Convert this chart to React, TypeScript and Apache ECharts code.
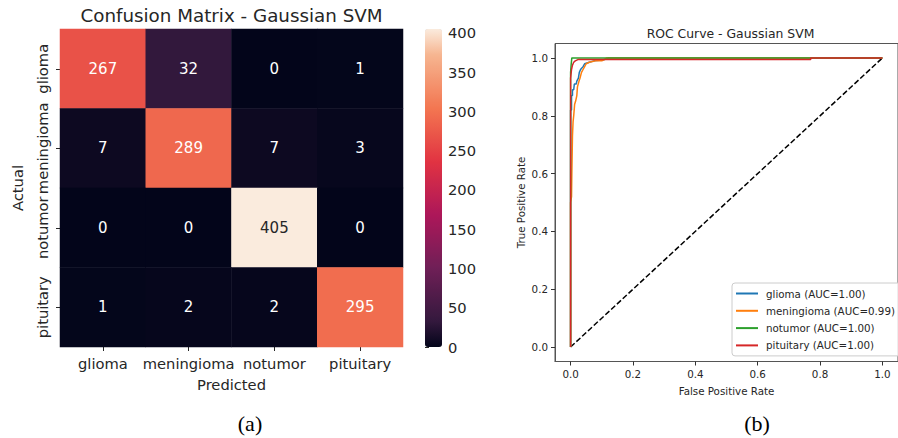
import React, { useEffect, useRef } from 'react';
import * as echarts from 'echarts';

const classes = ['glioma', 'meningioma', 'notumor', 'pituitary'];
const confusion = [
  [267, 32, 0, 1],
  [7, 289, 7, 3],
  [0, 0, 405, 0],
  [1, 2, 2, 295],
];
const colorMin = 0;
const colorMax = 405;
const colorbarInterval = 50;

const rocTicks = [0, 0.2, 0.4, 0.6, 0.8, 1.0];
const rocNames = ['glioma', 'meningioma', 'notumor', 'pituitary'];
const rocAuc = ['1.00', '0.99', '1.00', '1.00'];
const rocColors = ['#1f77b4', '#ff7f0e', '#2ca02c', '#d62728'];

const gliomaRoc = [
  [0, 0], [0, 0.82], [0.003, 0.82], [0.003, 0.87], [0.006, 0.87], [0.006, 0.89],
  [0.01, 0.89], [0.012, 0.91], [0.018, 0.91], [0.02, 0.92], [0.025, 0.93],
  [0.028, 0.95], [0.032, 0.96], [0.04, 0.97], [0.045, 0.98], [0.06, 0.985],
  [0.075, 0.99], [0.1, 0.993], [0.12, 0.997], [0.12, 1.0], [1, 1],
];
const meningiomaRoc = [
  [0, 0], [0, 0.5], [0.003, 0.52], [0.004, 0.6], [0.006, 0.73], [0.008, 0.78],
  [0.01, 0.8], [0.013, 0.84], [0.016, 0.85], [0.02, 0.87], [0.022, 0.9],
  [0.027, 0.92], [0.03, 0.93], [0.035, 0.95], [0.04, 0.96], [0.045, 0.97],
  [0.05, 0.98], [0.06, 0.985], [0.08, 0.99], [0.1, 0.99], [0.11, 0.995],
  [0.115, 1.0], [1, 1],
];
const notumorRoc = [
  [0, 0], [0, 0.95], [0.002, 0.98], [0.004, 1.0], [1, 1],
];
const pituitaryRoc = [
  [0, 0], [0, 0.93], [0.003, 0.96], [0.006, 0.975], [0.01, 0.985], [0.015, 0.99],
  [0.025, 0.995], [0.77, 0.995], [0.77, 1.0], [1, 1],
];
const chanceLine = [[0, 0], [1, 1]];

const rocketColors = [
  '#03051a', '#35193e', '#521c4a', '#701f57', '#8f1b58', '#ad1759', '#c7254e',
  '#e13342', '#ea5549', '#f37651', '#f49570', '#f6b48f', '#faebdd',
];

const FONT = 'DejaVu Sans';
const TXT = '#262626';

export default function App() {
  const ref = useRef<HTMLDivElement>(null);
  useEffect(() => {
    if (!ref.current) return;
    const chart = echarts.init(ref.current, null, { renderer: 'svg' });
    const heatData: any[] = [];
    confusion.forEach((row, r) => {
      row.forEach((v, c) => {
        heatData.push({
          value: [c, r, v],
          label: { color: v > 350 ? TXT : '#ffffff' },
        });
      });
    });
    const rocSets = [gliomaRoc, meningiomaRoc, notumorRoc, pituitaryRoc];
    const rocSeries = rocSets.map((d, i) => ({
      type: 'line',
      name: `${rocNames[i]} (AUC=${rocAuc[i]})`,
      xAxisIndex: 2,
      yAxisIndex: 2,
      data: d,
      showSymbol: false,
      symbol: 'none',
      lineStyle: { color: rocColors[i], width: 1.5 },
      itemStyle: { color: rocColors[i] },
      z: 3 + i,
    }));

    const catAxisCommon = {
      axisLine: { show: true, lineStyle: { color: 'rgba(0,0,0,0)' } },
      axisTick: { show: true, alignWithLabel: true, interval: 0, length: 4, lineStyle: { color: TXT, width: 1 } },
    };

    const option: any = {
      animation: false,
      backgroundColor: '#ffffff',
      textStyle: { fontFamily: FONT },
      grid: [
        { left: 60, top: 29, width: 343, height: 318 },
        { left: 425, top: 29, width: 17, height: 318 },
        {
          left: 555, top: 43.5, width: 351, height: 318, show: true,
          borderColor: '#555555', borderWidth: 1, backgroundColor: 'transparent',
        },
      ],
      xAxis: [
        {
          type: 'category', gridIndex: 0, data: classes,
          ...catAxisCommon,
          axisLabel: { fontSize: 14.7, color: TXT, margin: 9, fontFamily: FONT, interval: 0, hideOverlap: false },
          name: 'Predicted', nameLocation: 'middle', nameGap: 30,
          nameTextStyle: { fontSize: 14.7, color: TXT, fontFamily: FONT },
        },
        { type: 'value', gridIndex: 1, show: false, min: 0, max: 1 },
        {
          type: 'value', gridIndex: 2, min: -0.05, max: 1.05,
          axisLine: { show: true, onZero: false, lineStyle: { color: '#555555' } },
          axisTick: { show: true, length: 4, customValues: rocTicks, lineStyle: { color: '#333' } },
          axisLabel: {
            fontSize: 10.3, color: TXT, margin: 7, fontFamily: FONT, customValues: rocTicks,
            formatter: (v: number) => v.toFixed(1),
          },
          splitLine: { show: false },
          name: 'False Positive Rate', nameLocation: 'middle', nameGap: 24,
          nameTextStyle: { fontSize: 10.3, color: TXT, fontFamily: FONT },
        },
      ],
      yAxis: [
        {
          type: 'category', gridIndex: 0, data: classes, inverse: true,
          ...catAxisCommon,
          axisLabel: { fontSize: 14.7, color: TXT, margin: 10, rotate: 90, fontFamily: FONT, interval: 0, hideOverlap: false },
          name: 'Actual', nameLocation: 'middle', nameGap: 35, nameRotate: 90,
          nameTextStyle: { fontSize: 14.7, color: TXT, fontFamily: FONT },
        },
        {
          type: 'value', gridIndex: 1, position: 'right', min: colorMin, max: colorMax,
          interval: colorbarInterval,
          axisLine: { show: false },
          axisTick: { show: true, length: 4, lineStyle: { color: TXT } },
          axisLabel: { fontSize: 14.7, color: TXT, margin: 6, fontFamily: FONT },
          splitLine: { show: false },
        },
        {
          type: 'value', gridIndex: 2, min: -0.05, max: 1.05,
          axisLine: { show: true, onZero: false, lineStyle: { color: '#555555' } },
          axisTick: { show: true, length: 4, customValues: rocTicks, lineStyle: { color: '#333' } },
          axisLabel: {
            fontSize: 10.3, color: TXT, margin: 7, fontFamily: FONT, customValues: rocTicks,
            formatter: (v: number) => v.toFixed(1),
          },
          splitLine: { show: false },
          name: 'True Positive Rate', nameLocation: 'middle', nameGap: 29,
          nameTextStyle: { fontSize: 10.3, color: TXT, fontFamily: FONT },
        },
      ],
      visualMap: {
        type: 'continuous', seriesIndex: 0, dimension: 2,
        min: colorMin, max: colorMax, calculable: false, orient: 'vertical',
        left: 425, top: 29, itemWidth: 17, itemHeight: 318, padding: 0,
        text: null, showLabel: false, hoverLink: false,
        inRange: { color: rocketColors },
      },
      legend: {
        data: rocNames.map((n, i) => `${n} (AUC=${rocAuc[i]})`),
        orient: 'vertical', left: 732, top: 283, itemWidth: 22, itemHeight: 2,
        itemGap: 4.3, icon: 'rect', padding: [4, 6, 4, 4],
        borderColor: '#cccccc', borderWidth: 1, borderRadius: 3,
        backgroundColor: 'rgba(255,255,255,0.8)',
        textStyle: { fontSize: 10.3, color: TXT, fontFamily: FONT, lineHeight: 13, padding: [0, 0, 0, 3] },
      },
      graphic: [
        {
          type: 'text', x: 231.5, y: 15,
          style: {
            text: 'Confusion Matrix - Gaussian SVM', fontSize: 18.3, fontFamily: FONT,
            fill: TXT, textAlign: 'center', textVerticalAlign: 'middle',
          },
        },
        {
          type: 'text', x: 730.5, y: 33,
          style: {
            text: 'ROC Curve - Gaussian SVM', fontSize: 12.4, fontFamily: FONT,
            fill: TXT, textAlign: 'center', textVerticalAlign: 'middle',
          },
        },
        {
          type: 'text', x: 250, y: 423,
          style: {
            text: '(a)', fontSize: 22, fontFamily: 'Liberation Serif',
            fill: '#000', textAlign: 'center', textVerticalAlign: 'middle',
          },
        },
        {
          type: 'text', x: 757, y: 423,
          style: {
            text: '(b)', fontSize: 22, fontFamily: 'Liberation Serif',
            fill: '#000', textAlign: 'center', textVerticalAlign: 'middle',
          },
        },
      ],
      series: [
        {
          type: 'heatmap', xAxisIndex: 0, yAxisIndex: 0, data: heatData,
          label: { show: true, fontSize: 15, fontFamily: FONT },
          itemStyle: { borderWidth: 0 },
          emphasis: { disabled: true },
        },
        ...rocSeries,
        {
          type: 'line', xAxisIndex: 2, yAxisIndex: 2, data: chanceLine,
          showSymbol: false, symbol: 'none', z: 2,
          lineStyle: { color: '#000000', width: 1.5, type: [5.5, 2.4] },
        },
      ],
    };
    chart.setOption(option);
    return () => chart.dispose();
  }, []);
  return (
    <div
      ref={ref}
      style={{ position: 'fixed', left: 0, top: 0, width: 898, height: 438 }}
    />
  );
}
